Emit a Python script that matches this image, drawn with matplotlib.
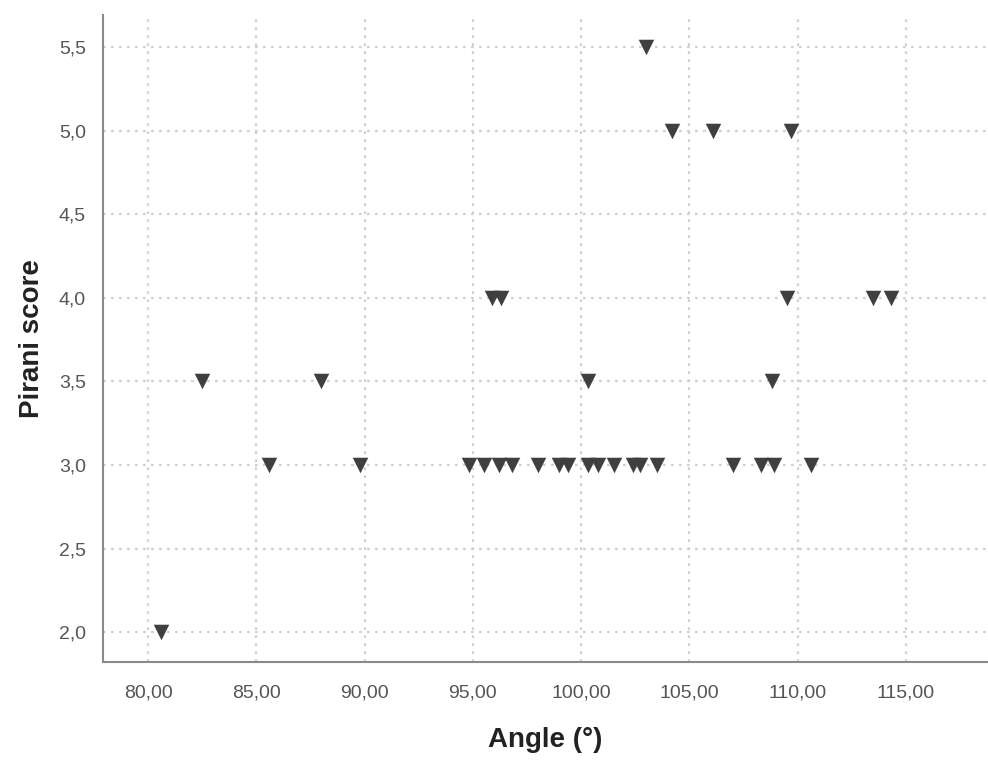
import matplotlib
matplotlib.use("Agg")
import matplotlib.pyplot as plt
from matplotlib.ticker import FuncFormatter

plt.rcParams['font.family'] = ['Liberation Sans', 'DejaVu Sans']

# Angle (deg) vs Pirani score
angle = [80.6, 82.5, 85.6, 88.0, 89.8,
         95.9, 96.3,
         103.0,
         104.2, 106.1, 109.7,
         109.5, 113.5, 114.3,
         100.3, 108.8,
         94.8, 95.5, 96.2, 96.8, 98.0, 99.0, 99.4, 100.3, 100.8, 101.5,
         102.4, 102.7, 103.5, 107.0, 108.3, 108.9, 110.6]
score = [2.0, 3.5, 3.0, 3.5, 3.0,
         4.0, 4.0,
         5.5,
         5.0, 5.0, 5.0,
         4.0, 4.0, 4.0,
         3.5, 3.5,
         3.0, 3.0, 3.0, 3.0, 3.0, 3.0, 3.0, 3.0, 3.0, 3.0,
         3.0, 3.0, 3.0, 3.0, 3.0, 3.0, 3.0]

x_ticks = [80, 85, 90, 95, 100, 105, 110, 115]
y_ticks = [2.0, 2.5, 3.0, 3.5, 4.0, 4.5, 5.0, 5.5]

fig = plt.figure(figsize=(9.88, 7.63), dpi=100)
ax = fig.add_axes([0.104, 0.132, 0.896, 0.848])

ax.scatter(angle, score, marker='v', s=125, color='#3f3f3f', zorder=3, linewidths=0)

ax.set_xlim(77.9, 118.8)
ax.set_ylim(1.82, 5.69)
ax.set_xticks(x_ticks)
ax.set_yticks(y_ticks)
ax.xaxis.set_major_formatter(FuncFormatter(lambda v, p: f"{v:.2f}".replace('.', ',')))
ax.yaxis.set_major_formatter(FuncFormatter(lambda v, p: f"{v:.1f}".replace('.', ',')))

ax.grid(True, color='#d0d0d0', linestyle=(0, (1.2, 2.4)), linewidth=1.6, zorder=0)
ax.tick_params(length=0, labelsize=14, labelcolor='#555555')
ax.tick_params(axis='x', pad=16)
ax.tick_params(axis='y', pad=12)

for side in ['top', 'right']:
    ax.spines[side].set_visible(False)
for side in ['left', 'bottom']:
    ax.spines[side].set_color('#8a8a8a')
    ax.spines[side].set_linewidth(1.5)

ax.set_xlabel("Angle (°)", fontsize=20, fontweight='bold', color='#222222', labelpad=18)
ax.set_ylabel("Pirani score", fontsize=20, fontweight='bold', color='#222222', labelpad=10)

fig.savefig("out.png", dpi=100)
